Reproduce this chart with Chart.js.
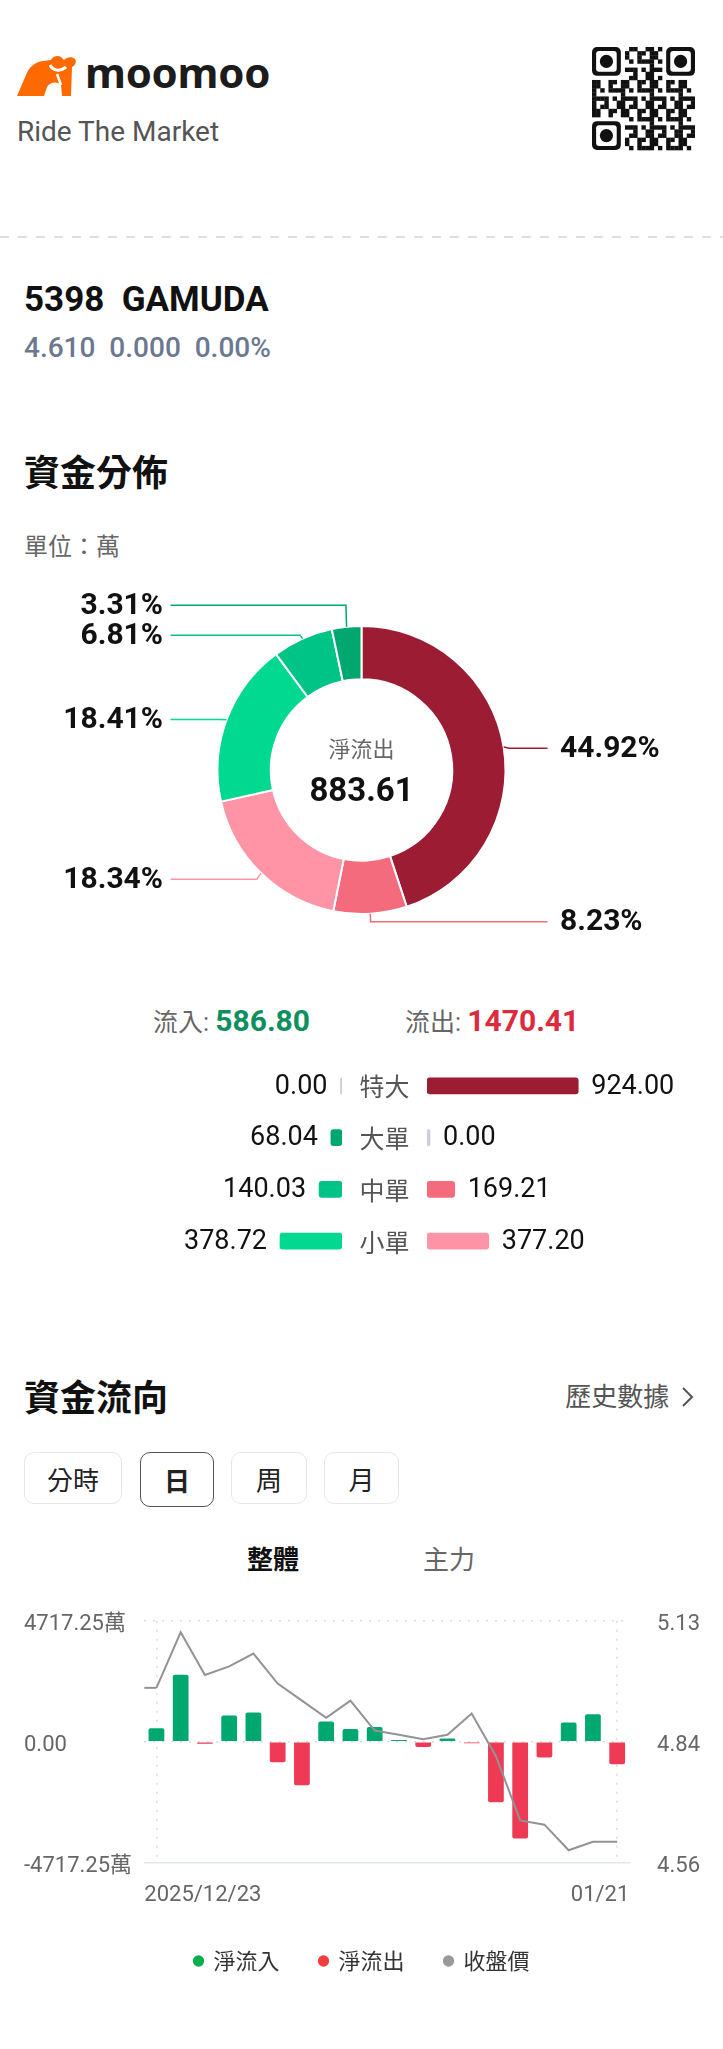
<!DOCTYPE html>
<html lang="zh-Hant">
<head>
<meta charset="utf-8">
<title>5398 GAMUDA 資金分佈</title>
<script src="https://cdn.jsdelivr.net/npm/chart.js@4.4.1/dist/chart.umd.min.js"></script>
<style>
  html, body { margin: 0; padding: 0; background: #fff; }
  body {
    width: 723px; height: 2049px; position: relative; overflow: hidden;
    font-family: Roboto, "Noto Sans CJK TC", "Noto Sans", sans-serif; color: #111;
  }
  .t { position: absolute; line-height: 1; white-space: nowrap; transform: translateY(-50%); }
  .c { position: absolute; line-height: 1; white-space: nowrap; transform: translate(-50%, -50%); }
  .h { font-family: "Noto Sans CJK TC", sans-serif; font-size: 36px; font-weight: 700; }
  .cjk { font-family: "Noto Sans CJK TC", sans-serif; }
  .dash {
    position: absolute; left: 0; width: 723px; height: 2px;
    background-image: linear-gradient(to right, #dedede 50%, transparent 50%);
    background-size: 18px 2px;
  }
  .btn {
    position: absolute; top: 1452px; height: 52px; box-sizing: border-box;
    border: 1px solid #e6e6e6; border-radius: 10px; font-size: 26px; color: #222;
    display: flex; align-items: center; justify-content: center;
    font-family: "Noto Sans CJK TC", sans-serif;
  }
  .btn.on { border: 1.5px solid #555; font-weight: 700; height: 55px; }
  canvas { position: absolute; }
</style>
</head>
<body>

<svg style="position:absolute;left:17px;top:55px" width="60" height="41" viewBox="0 0 60 41">
  <path fill="#ff6a00" d="M0 41 L9 20 C12 12 18 7 26 6 L34 5 C36 1 41 0 44 2 L47 5 C50 2 55 1 58 4 C60 7 58 11 55 12 L54 41 L45 41 L44 30 C40 26 33 27 30 32 L27 41 Z"/>
  <path d="M33 10 C36 16 43 17 49 12" stroke="#fff" stroke-width="3" fill="none"/>
  <path d="M40 19 L44 30" stroke="#fff" stroke-width="2.5" fill="none"/>
</svg>
<div class="t" style="left:85px;top:72px;font-family:'Noto Sans',sans-serif;font-size:42px;font-weight:700;color:#1c1c1c;letter-spacing:-0.3px">moomoo</div>
<div class="t" style="left:17px;top:132px;font-size:28px;color:#555">Ride The Market</div>
<canvas id="qr" width="103" height="105" style="left:592px;top:47px"></canvas>
<div class="dash" style="top:236px"></div>

<div class="t" style="left:24px;top:299px;font-size:35px;font-weight:700">5398&nbsp;&nbsp;GAMUDA</div>
<div class="t" style="left:24px;top:348px;font-size:28px;font-weight:500;color:#6b7890">4.610&nbsp;&nbsp;0.000&nbsp;&nbsp;0.00%</div>

<div class="t h" style="left:24px;top:470px">資金分佈</div>
<div class="t cjk" style="left:24px;top:545px;font-size:24px;color:#666">單位：萬</div>

<canvas id="ring" width="723" height="400" style="left:0;top:560px"></canvas>

<div class="t" style="left:153px;top:1021px;font-size:25px;color:#666"><span class="cjk">流入</span>: <span id="inTotal" style="font-size:30px;font-weight:700;color:#0f8f5f"></span></div>
<div class="t" style="left:405px;top:1021px;font-size:25px;color:#666"><span class="cjk">流出</span>: <span id="outTotal" style="font-size:30px;font-weight:700;color:#dc2b3c"></span></div>

<canvas id="flowIn" width="242" height="207" style="left:100px;top:1060px"></canvas>
<canvas id="flowOut" width="381" height="207" style="left:342px;top:1060px"></canvas>

<div class="t h" style="left:24px;top:1395px">資金流向</div>
<div class="t cjk" style="right:28px;top:1395px;font-size:26px;color:#555">歷史數據 <svg width="14" height="22" viewBox="0 0 14 22" style="vertical-align:-2px;margin-left:6px"><path d="M2 2 L11 11 L2 20" stroke="#555" stroke-width="2" fill="none"/></svg></div>

<div class="btn" style="left:24px;width:98px">分時</div>
<div class="btn on" style="left:140px;width:74px">日</div>
<div class="btn" style="left:231px;width:76px">周</div>
<div class="btn" style="left:324px;width:75px">月</div>

<div class="c cjk" style="left:273px;top:1558px;font-size:26px;font-weight:700;color:#111">整體</div>
<div class="c cjk" style="left:449px;top:1558px;font-size:26px;color:#666">主力</div>

<canvas id="flowChart" width="723" height="382" style="left:0;top:1600px"></canvas>

<script>
// ---- 資金分佈 (萬) ----
const sizeLabels = ['特大', '大單', '中單', '小單'];
const inflow = [0.00, 68.04, 140.03, 378.72];
const outflow = [924.00, 0.00, 169.21, 377.20];
const totalIn = 586.80;
const totalOut = 1470.41;

// ---- 資金流向, daily ----
const dates = ['2025/12/23', '2025/12/24', '2025/12/26', '2025/12/29', '2025/12/30', '2025/12/31',
  '2026/01/02', '2026/01/05', '2026/01/06', '2026/01/07', '2026/01/08', '2026/01/09',
  '2026/01/12', '2026/01/13', '2026/01/14', '2026/01/15', '2026/01/16', '2026/01/19',
  '2026/01/20', '2026/01/21'];
const netFlow = [523, 2614, -77, 1020, 1135, -803, -1696, 790, 497, 574,
  70, -204, 128, -64, -2359, -3773.8, -612, 752, 1071, -880];
const closePrice = [4.97, 5.10, 5.00, 5.02, 5.05, 4.98, 4.94, 4.90, 4.94, 4.87,
  4.86, 4.85, 4.86, 4.91, 4.81, 4.66, 4.65, 4.59, 4.61, 4.61];
const netAxisMax = 4717.25;
const priceAxisMin = 4.561;
const priceAxisMax = 5.127;

const inColors = ['#00845a', '#00a870', '#00c386', '#00d98f'];
const outColors = ['#9c1d33', '#e8455d', '#f56b7e', '#ff94a6'];
const zeroColor = '#c9cfdb';
const GREEN = '#00a870', RED = '#ef3a56', PRICE = '#929297';
const NUM_FONT = 'Roboto, "Noto Sans CJK TC", sans-serif';

document.getElementById('inTotal').textContent = totalIn.toFixed(2);
document.getElementById('outTotal').textContent = totalOut.toFixed(2);

// fake QR decoration
(function drawQr() {
  const c = document.getElementById('qr');
  const g = c.getContext('2d');
  const n = 25, s = c.width / n;
  g.fillStyle = '#111';
  const inFinder = (x, y) => (x < 8 && y < 8) || (x > n - 9 && y < 8) || (x < 8 && y > n - 9);
  for (let y = 0; y < n; y++) {
    for (let x = 0; x < n; x++) {
      if (inFinder(x, y)) continue;
      if ((x * x * 3 + y * 7 + x * y * 5 + x) % 7 < 3) g.fillRect(x * s, y * s, s + 0.3, s + 0.3);
    }
  }
  [[0, 0], [n - 7, 0], [0, n - 7]].forEach(([fx, fy]) => {
    g.fillStyle = '#111';
    g.beginPath(); g.roundRect(fx * s, fy * s, 7 * s, 7 * s, 5); g.fill();
    g.fillStyle = '#fff';
    g.beginPath(); g.roundRect((fx + 1) * s, (fy + 1) * s, 5 * s, 5 * s, 3); g.fill();
    g.fillStyle = '#111';
    g.beginPath(); g.arc((fx + 3.5) * s, (fy + 3.5) * s, 1.6 * s, 0, Math.PI * 2); g.fill();
  });
})();

// --- donut ---
const ringValues = outflow.concat(inflow.slice().reverse());
const ringColors = outColors.concat(inColors.slice().reverse());
const ringTotal = ringValues.reduce((a, b) => a + b, 0);

const leaderPlugin = {
  id: 'leaders',
  afterDatasetsDraw(chart) {
    const ctx = chart.ctx;
    const arcs = chart.getDatasetMeta(0).data;
    const items = [];
    arcs.forEach((arc, i) => {
      const v = ringValues[i];
      if (!v) return;
      const p = arc.getProps(['x', 'y', 'startAngle', 'endAngle', 'outerRadius']);
      const mid = (p.startAngle + p.endAngle) / 2;
      const cos = Math.cos(mid), sin = Math.sin(mid);
      items.push({
        i, cx: p.x, cy: p.y, r: p.outerRadius, cos, sin,
        side: cos >= 0 ? 1 : -1,
        y: p.y + (p.outerRadius + 6) * sin + 2,
        text: (v / ringTotal * 100).toFixed(2) + '%'
      });
    });
    // push overlapping labels upward
    [1, -1].forEach(side => {
      const list = items.filter(d => d.side === side).sort((a, b) => a.y - b.y);
      for (let k = list.length - 2; k >= 0; k--) {
        if (list[k].y > list[k + 1].y - 30) list[k].y = list[k + 1].y - 30;
      }
    });
    ctx.save();
    ctx.lineWidth = 1.5;
    ctx.textBaseline = 'middle';
    ctx.font = 'bold 30px ' + NUM_FONT;
    items.forEach(d => {
      const x0 = d.cx + d.r * d.cos, y0 = d.cy + d.r * d.sin;
      const xe = d.cx + (d.r + 6) * d.cos;
      const xEnd = d.side > 0 ? d.cx + 186 : d.cx - 191;
      ctx.strokeStyle = ringColors[d.i];
      ctx.beginPath();
      ctx.moveTo(x0, y0);
      ctx.lineTo(xe, d.y);
      ctx.lineTo(xEnd, d.y);
      ctx.stroke();
      ctx.fillStyle = '#111';
      ctx.textAlign = d.side > 0 ? 'left' : 'right';
      ctx.fillText(d.text, d.side > 0 ? d.cx + 198.5 : d.cx - 198.5, d.y + 1);
    });
    const c = arcs[0];
    ctx.textAlign = 'center';
    ctx.fillStyle = '#666';
    ctx.font = '22px "Noto Sans CJK TC", sans-serif';
    ctx.fillText('淨流出', c.x, c.y - 21);
    ctx.fillStyle = '#111';
    ctx.font = 'bold 33px ' + NUM_FONT;
    ctx.fillText((totalOut - totalIn).toFixed(2), c.x, c.y + 23);
    ctx.restore();
  }
};

new Chart(document.getElementById('ring'), {
  type: 'doughnut',
  data: {
    labels: sizeLabels.map(s => s + '流出').concat(sizeLabels.slice().reverse().map(s => s + '流入')),
    datasets: [{
      data: ringValues,
      backgroundColor: ringColors,
      borderColor: '#fff',
      borderWidth: 2
    }]
  },
  options: {
    responsive: false,
    animation: false,
    cutout: '63%',
    layout: { padding: { top: 65, bottom: 45, left: 216, right: 216 } },
    plugins: { legend: { display: false }, tooltip: { enabled: false } }
  },
  plugins: [leaderPlugin]
});

// --- inflow / outflow by order size ---
const sizeAxisMax = Math.max(...inflow, ...outflow) * 1.6;

const sideLabels = {
  id: 'sideLabels',
  afterDatasetsDraw(chart, args, opts) {
    const ctx = chart.ctx;
    const meta = chart.getDatasetMeta(0);
    const vals = chart.data.datasets[0].data;
    ctx.save();
    ctx.textBaseline = 'middle';
    ctx.font = '27px ' + NUM_FONT;
    ctx.fillStyle = '#111';
    meta.data.forEach((bar, i) => {
      const left = Math.min(bar.x, bar.base), right = Math.max(bar.x, bar.base);
      if (opts.side < 0) {
        ctx.textAlign = 'right';
        ctx.fillText(vals[i].toFixed(2), left - 13, bar.y + 1);
      } else {
        ctx.textAlign = 'left';
        ctx.fillText(vals[i].toFixed(2), right + 13, bar.y + 1);
      }
    });
    if (opts.names) {
      ctx.textAlign = 'center';
      ctx.fillStyle = '#555';
      ctx.font = '25px "Noto Sans CJK TC", sans-serif';
      const yScale = chart.scales.y;
      sizeLabels.forEach((s, i) => {
        ctx.fillText(s, chart.chartArea.left - 42.5, yScale.getPixelForValue(i) + 1);
      });
    }
    ctx.restore();
  }
};

function sizeChart(id, values, colors, side, padding) {
  return new Chart(document.getElementById(id), {
    type: 'bar',
    data: {
      labels: sizeLabels,
      datasets: [{
        data: values,
        backgroundColor: values.map((v, i) => v === 0 ? zeroColor : colors[i]),
        barThickness: 16,
        minBarLength: 3,
        borderRadius: 3,
        borderSkipped: false
      }]
    },
    options: {
      indexAxis: 'y',
      responsive: false,
      animation: false,
      layout: { padding },
      scales: {
        x: { display: false, reverse: side < 0, min: 0, max: sizeAxisMax },
        y: { display: false }
      },
      plugins: {
        legend: { display: false },
        tooltip: { enabled: false },
        sideLabels: { side, names: side > 0 }
      }
    },
    plugins: [sideLabels]
  });
}

sizeChart('flowIn', inflow, inColors, -1, 0);
sizeChart('flowOut', outflow, outColors, 1, { left: 85, right: 54 });

// --- daily net flow + close ---
const chartDecor = {
  id: 'chartDecor',
  afterDatasetsDraw(chart) {
    const { ctx, chartArea } = chart;
    const p = chart.getDatasetMeta(2).data[0];
    ctx.save();
    ctx.strokeStyle = PRICE;
    ctx.lineWidth = 2;
    ctx.beginPath();
    ctx.moveTo(chartArea.left, p.y);
    ctx.lineTo(p.x, p.y);
    ctx.stroke();
    ctx.restore();
  },
  afterDraw(chart) {
    const { ctx, chartArea } = chart;
    ctx.save();
    ctx.font = '22px ' + NUM_FONT;
    ctx.fillStyle = '#666';
    ctx.textBaseline = 'middle';
    ctx.textAlign = 'left';
    ctx.fillText(dates[0], chartArea.left, chartArea.bottom + 33);
    ctx.textAlign = 'right';
    ctx.fillText(dates[dates.length - 1].slice(5), chartArea.right, chartArea.bottom + 33);
    ctx.restore();
  }
};

const legendDots = ['#0aae4b', '#f23d3d', '#98989d'];
const tickFont = { size: 22, family: NUM_FONT };

new Chart(document.getElementById('flowChart'), {
  data: {
    labels: dates,
    datasets: [
      {
        type: 'bar', label: '淨流入',
        data: netFlow.map(v => v > 0 ? v : null),
        backgroundColor: GREEN, grouped: false, order: 1,
        barPercentage: 0.65, categoryPercentage: 1, borderRadius: 2
      },
      {
        type: 'bar', label: '淨流出',
        data: netFlow.map(v => v < 0 ? v : null),
        backgroundColor: RED, grouped: false, order: 1,
        barPercentage: 0.65, categoryPercentage: 1, borderRadius: 2
      },
      {
        type: 'line', label: '收盤價', yAxisID: 'y1',
        data: closePrice,
        borderColor: PRICE, backgroundColor: PRICE, borderWidth: 2,
        pointRadius: 0, tension: 0, order: 0
      }
    ]
  },
  options: {
    responsive: false,
    animation: false,
    layout: { padding: { top: 20.7, left: 24, right: 23, bottom: 0 } },
    scales: {
      x: {
        type: 'category',
        offset: true,
        ticks: { display: false },
        grid: {
          offset: false,
          drawTicks: false,
          lineWidth: 1.5,
          color: ctx => (ctx.index === 0 || ctx.index === dates.length - 1) ? '#dcdcdc' : 'rgba(0,0,0,0)'
        },
        border: { display: true, color: '#e1e5ec', width: 1.5, dash: [2, 7] },
        afterFit: s => { s.height = 47.3; }
      },
      y: {
        position: 'left',
        min: -netAxisMax,
        max: netAxisMax,
        afterBuildTicks: s => { s.ticks = [-netAxisMax, 0, netAxisMax].map(v => ({ value: v })); },
        ticks: {
          font: tickFont, color: '#666', padding: 0, crossAlign: 'far', labelOffset: 4,
          callback: v => v === 0 ? '0.00' : v.toFixed(2) + '萬'
        },
        grid: {
          drawTicks: false,
          lineWidth: 1.5,
          color: ctx => (ctx.tick && ctx.tick.value === -netAxisMax) ? 'rgba(0,0,0,0)' : '#dcdcdc'
        },
        border: { display: false, dash: [2, 7] },
        afterFit: s => { s.width = 120.3; }
      },
      y1: {
        position: 'right',
        min: priceAxisMin,
        max: priceAxisMax,
        afterBuildTicks: s => {
          s.ticks = [priceAxisMin, (priceAxisMin + priceAxisMax) / 2, priceAxisMax].map(v => ({ value: v }));
        },
        ticks: {
          font: tickFont, color: '#666', padding: 0, crossAlign: 'far', labelOffset: 4,
          callback: v => v.toFixed(2)
        },
        grid: { display: false },
        border: { display: false },
        afterFit: s => { s.width = 70.7; }
      }
    },
    plugins: {
      tooltip: { enabled: false },
      legend: {
        position: 'bottom',
        labels: {
          usePointStyle: true,
          pointStyle: 'circle',
          boxWidth: 8,
          boxHeight: 8,
          padding: 40,
          color: '#333',
          font: { size: 22, family: '"Noto Sans CJK TC", sans-serif' },
          generateLabels: chart => Chart.defaults.plugins.legend.labels.generateLabels(chart)
            .sort((a, b) => a.datasetIndex - b.datasetIndex)
            .map(item => Object.assign(item, {
              fillStyle: legendDots[item.datasetIndex],
              strokeStyle: legendDots[item.datasetIndex],
              lineWidth: 0
            }))
        }
      }
    }
  },
  plugins: [chartDecor]
});
</script>
</body>
</html>
